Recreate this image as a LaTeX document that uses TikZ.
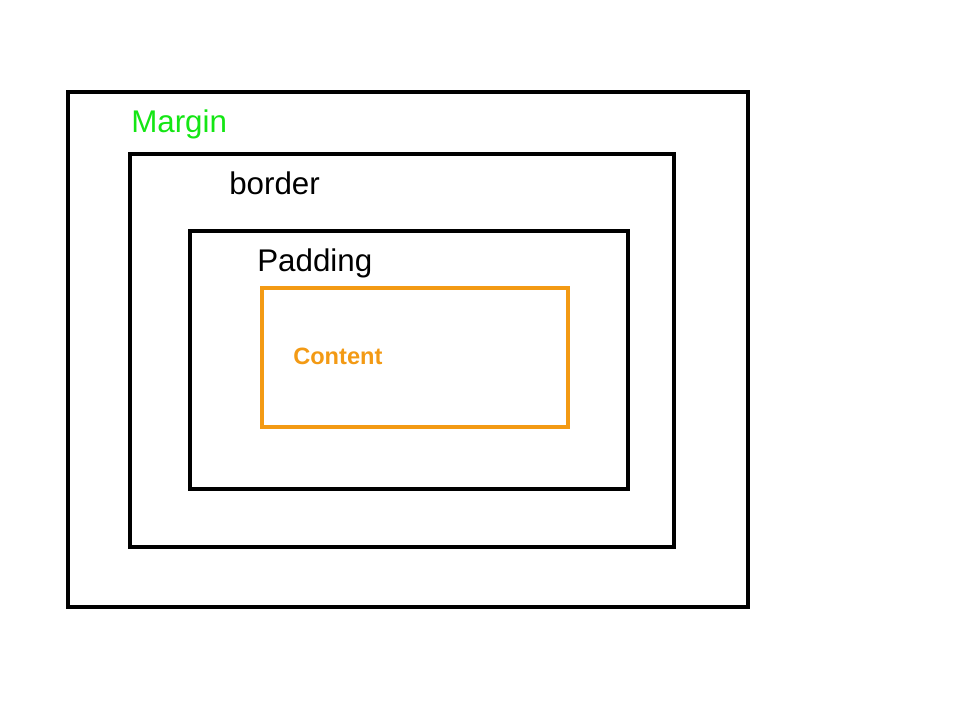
\documentclass[tikz,border=0pt]{standalone}
\usepackage{fontspec}
\setmainfont{Liberation Sans}
\definecolor{mgreen}{RGB}{20,230,20}
\definecolor{morange}{RGB}{243,154,20}
\begin{document}
\begin{tikzpicture}[x=0.75pt,y=-0.75pt,
  box/.style={draw=black,line width=2.3pt},
  cbox/.style={draw=morange,line width=2.3pt},
  lbl/.style={inner sep=0pt,font=\fontsize{23.5pt}{28pt}\selectfont},
  clbl/.style={inner sep=0pt,text=morange,font=\fontsize{17.7pt}{21pt}\selectfont\bfseries}]
\useasboundingbox[fill=white] (0,0) rectangle (960,720);
\node[box,minimum width=680*0.75pt,minimum height=515*0.75pt,inner sep=0pt] (margin) at (408,349.5) {};
\node[box,minimum width=544*0.75pt,minimum height=393*0.75pt,inner sep=0pt] (border) at (402,350.5) {};
\node[box,minimum width=438*0.75pt,minimum height=258*0.75pt,inner sep=0pt] (padding) at (409,360) {};
\node[cbox,minimum width=306*0.75pt,minimum height=139*0.75pt,inner sep=0pt] (content) at (415,357.5) {};
\node[lbl,text=mgreen,anchor=base west] (tm) at (131,133) {Margin};
\node[lbl,anchor=base west] (tb) at (229,195) {border};
\node[lbl,anchor=base west] (tp) at (257,272) {Padding};
\node[clbl,anchor=base west] (tc) at (293,364) {Content};
\end{tikzpicture}
\end{document}
